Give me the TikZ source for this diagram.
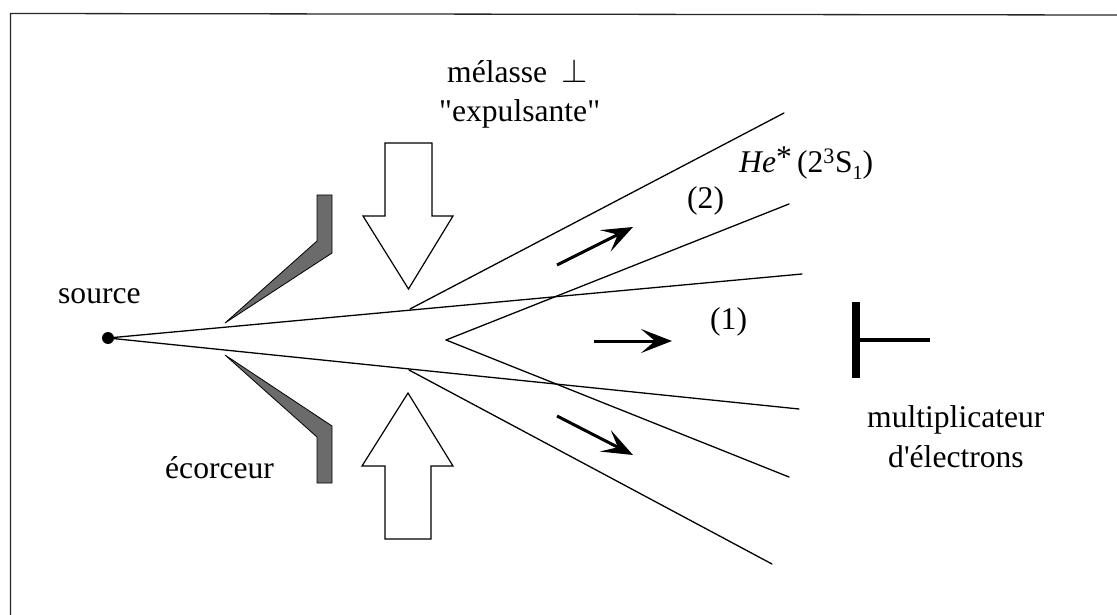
\documentclass[tikz,border=0pt]{standalone}
\usepackage{fontspec}
\defaultfontfeatures[\rmfamily]{Ligatures=Common}
\setmainfont{Liberation Serif}
\usepackage{tikz}
\usetikzlibrary{arrows.meta, positioning}
\tikzset{
  lab/.style={font=\fontsize{31.6}{36}\selectfont, inner sep=0pt, anchor=base west},
  ray/.style={line width=1.3pt, line cap=round},
  flow/.style={-{Stealth[length=31pt, width=24pt, inset=14pt]}, line width=3pt},
  laser/.style={draw=black, line width=1.2pt, fill=white, line join=miter},
  skimmer/.style={draw=black, line width=0.8pt, fill=black!58},
  frameline/.style={line width=1.3pt, black!85},
}

\begin{document}
\begin{tikzpicture}[x=1pt, y=-1pt]
  \useasboundingbox (0,0) rectangle (1117,615);

  % Frame, open on the right and at the bottom
  \coordinate (frmtl) at (10.5,13.5);
  \draw[frameline] (1117,15) -- (frmtl) -- (10.5,615);

  % Source and beam
  \node[circle, fill=black, inner sep=0pt, minimum size=12pt] (src) at (108,338) {};
  \coordinate (upend) at (802,274);
  \coordinate (lowend) at (799,409);
  \coordinate (upkink) at (410,309);
  \coordinate (lowkink) at (409,370);
  \coordinate (apex) at (446,340);
  \draw[ray] (src.center) -- (upend);
  \draw[ray] (src.center) -- (lowend);

  % Deflected beams
  \coordinate (defla) at (784,113);
  \coordinate (deflb) at (789,204);
  \coordinate (deflc) at (789,477);
  \coordinate (defld) at (772,564);
  \draw[ray] (upkink) -- (defla);
  \draw[ray] (apex) -- (deflb);
  \draw[ray] (apex) -- (deflc);
  \draw[ray] (lowkink) -- (defld);

  % Skimmer
  \draw[skimmer] (225,323) -- (317,241) -- (317,195) -- (332,195) -- (332,253) -- cycle;
  \draw[skimmer] (225,355) -- (317,437) -- (317,483) -- (332,483) -- (332,426) -- cycle;

  % Molasses arrows
  \draw[laser] (385,143) -- (432,143) -- (432,216) -- (453,216) -- (408.5,289)
    -- (363,216) -- (385,216) -- cycle;
  \draw[laser] (385,539) -- (431,539) -- (431,466) -- (453,466) -- (408,393)
    -- (362,466) -- (385,466) -- cycle;

  % Flow arrows
  \coordinate (fla) at (557,265);
  \coordinate (flb) at (633,227);
  \coordinate (flc) at (594,341);
  \coordinate (fld) at (672,341);
  \coordinate (fle) at (557,416);
  \coordinate (flf) at (633,455);
  \draw[flow] (fla) -- (flb);
  \draw[flow] (flc) -- (fld);
  \draw[flow] (fle) -- (flf);

  % Electron multiplier
  \node[fill=black, inner sep=0pt, minimum width=8pt, minimum height=76pt] (det) at (856,340) {};
  \coordinate (detend) at (930,340);
  \draw[line width=4pt] (det.center) -- (detend);

  % Labels
  \node[lab] (mel) at (447,83) {mélasse};
  \node[lab] (perp) at (561,83) {\scalebox{1.35}{$\perp$}};
  \node[lab] (exp) at (439,122) {"expulsante"};
  \node[lab] (srclab) at (58,303) {source};
  \node[lab] (eco) at (165,478) {écorceur};
  \node[lab] (he) at (739,173) {\textit{He}\raisebox{0.16em}{*}\,(2\textsuperscript{3}S\raisebox{-0.22em}{\fontsize{20}{20}\selectfont 1})};
  \node[lab] (two) at (687,208) {(2)};
  \node[lab] (one) at (710,329) {(1)};
  \node[lab] (mult) at (867,427) {multiplicateur};
  \node[lab] (elec) at (888,467) {d'électrons};
\end{tikzpicture}
\end{document}
